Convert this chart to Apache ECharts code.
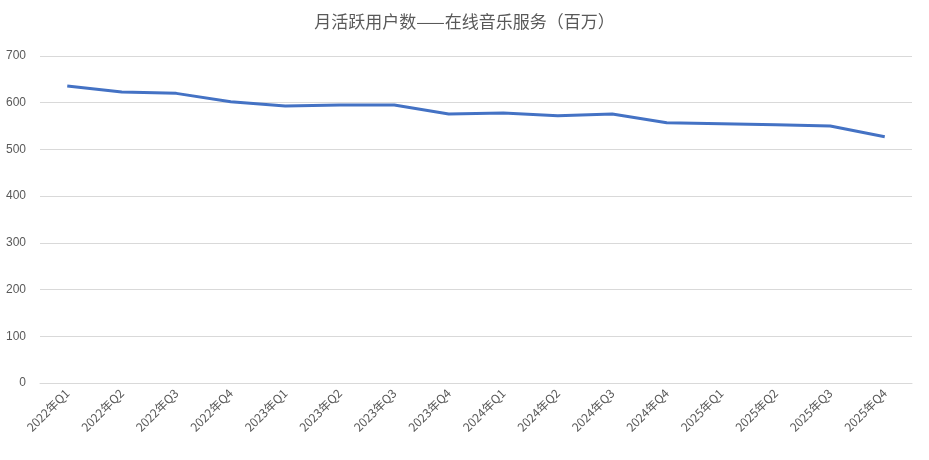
<!DOCTYPE html>
<html><head><meta charset="utf-8">
<script src="https://cdn.jsdelivr.net/npm/echarts@6/dist/echarts.min.js"></script>
<style>html,body{margin:0;padding:0;background:#fff}#c{width:929px;height:460px}</style>
</head><body><div id="c"></div>
<script>
const categories=["2022年Q1","2022年Q2","2022年Q3","2022年Q4","2023年Q1","2023年Q2","2023年Q3","2023年Q4","2024年Q1","2024年Q2","2024年Q3","2024年Q4","2025年Q1","2025年Q2","2025年Q3","2025年Q4"];
const values=[636,623,620,602,593,595,595,576,578,572,576,557,555,553,550,527];
const title="月活跃用户数——在线音乐服务（百万）";
const chart=echarts.init(document.getElementById('c'));
chart.setOption({
  animation:false,
  title:{text:title,left:'center',top:8,textStyle:{fontSize:17,fontWeight:'normal',color:'#595959',fontFamily:'Noto Sans CJK SC'}},
  grid:{left:40,right:17,top:56,bottom:77},
  xAxis:{type:'category',data:categories,boundaryGap:true,
    axisLine:{lineStyle:{color:'#d9d9d9'}},axisTick:{show:false},
    axisLabel:{rotate:45,color:'#595959',fontSize:12,fontFamily:'Noto Sans CJK SC',interval:0,margin:8}},
  yAxis:{type:'value',min:0,max:700,interval:100,
    axisLine:{show:false},axisTick:{show:false},
    axisLabel:{color:'#595959',fontSize:12,margin:14},
    splitLine:{lineStyle:{color:'#d9d9d9'}}},
  series:[{type:'line',data:values,symbol:'none',lineStyle:{color:'#4472c4',width:3}}]
});
</script></body></html>
